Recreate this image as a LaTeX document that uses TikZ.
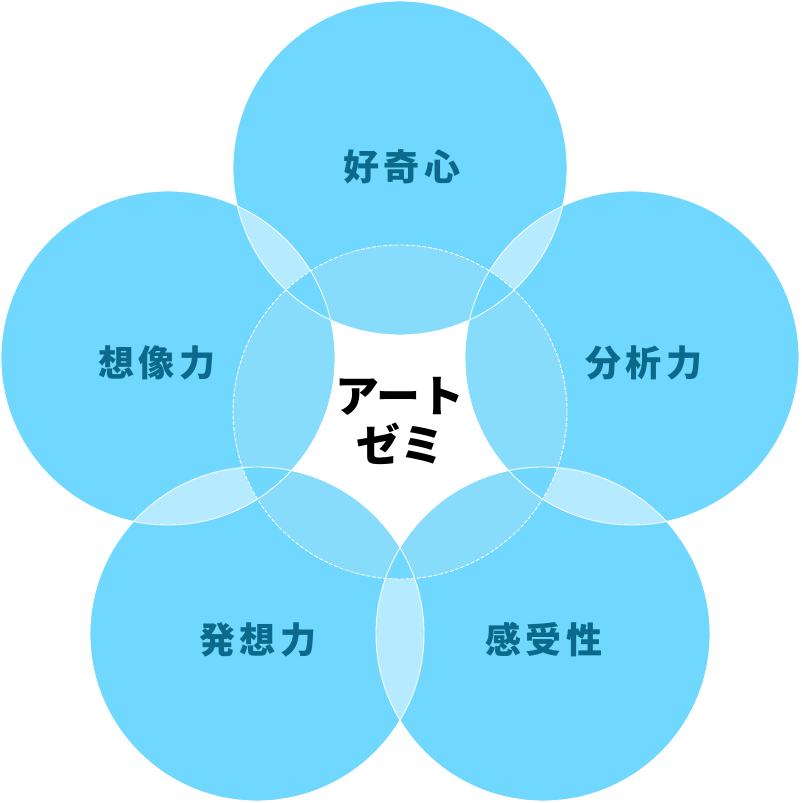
\documentclass[tikz,border=0pt]{standalone}
\usepackage{fontspec}
\newfontfamily\jpfont[LetterSpace=12]{Noto Sans CJK JP}
\newfontfamily\jpcenter{Noto Sans CJK JP}
\usepackage{tikz}
\usepackage{xcolor}
\definecolor{ringblue}{HTML}{70D8FF}
\definecolor{pairblue}{HTML}{B5EAFF}
\definecolor{midblue}{HTML}{88DCFB}
\definecolor{labelteal}{HTML}{0B6A8B}

\begin{document}
\begin{tikzpicture}[line cap=round,
  ring/.style={fill=ringblue},
  pair/.style={fill=pairblue},
  mid/.style={fill=midblue},
  rim/.style={draw=white,line width=0.5pt},
  label/.style={text=labelteal,font=\jpfont\bfseries\fontsize{20.5}{24}\selectfont},
  title/.style={text=black,font=\jpcenter\bfseries\fontsize{25}{27.5}\selectfont,align=center}]
\def\rad{3.34}
\useasboundingbox (0,0) rectangle (16.02,16.06);
\coordinate (kokishin) at (8.00,12.70);
\coordinate (bunseki) at (12.64,8.90);
\coordinate (kanjusei) at (10.86,3.38);
\coordinate (hasso) at (5.14,3.38);
\coordinate (sozo) at (3.36,8.90);
\coordinate (art) at (8.00,7.82);
\foreach \c in {kokishin,bunseki,kanjusei,hasso,sozo}
  \fill[ring] (\c) circle (\rad);
\foreach \a/\b in {kokishin/bunseki,bunseki/kanjusei,kanjusei/hasso,hasso/sozo,sozo/kokishin}{
  \begin{scope}
  \clip (\a) circle (\rad);
  \fill[pair] (\b) circle (\rad);
  \end{scope}
}
\foreach \c in {kokishin,bunseki,kanjusei,hasso,sozo}{
  \begin{scope}
  \clip (art) circle (\rad);
  \fill[mid] (\c) circle (\rad);
  \end{scope}
}
\foreach \a/\b in {kokishin/bunseki,bunseki/kanjusei,kanjusei/hasso,hasso/sozo,sozo/kokishin}{
  \begin{scope}
  \clip (art) circle (\rad);
  \clip (\a) circle (\rad);
  \fill[ring] (\b) circle (\rad);
  \end{scope}
}
\foreach \c in {kokishin,bunseki,kanjusei,hasso,sozo}
  \draw[rim] (\c) circle (\rad);
\draw[rim,dash pattern=on 2pt off 1.2pt] (art) circle (\rad);
\node[label] (kokishin-label) at (8.04,12.72) {好奇心};
\node[label] (bunseki-label) at (12.88,8.80) {分析力};
\node[label] (kanjusei-label) at (10.88,3.26) {感受性};
\node[label] (hasso-label) at (5.16,3.26) {発想力};
\node[label] (sozo-label) at (3.14,8.80) {想像力};
\node[title] (art-label) at (8.00,7.64) {アート\\ゼミ};
\end{tikzpicture}
\end{document}
